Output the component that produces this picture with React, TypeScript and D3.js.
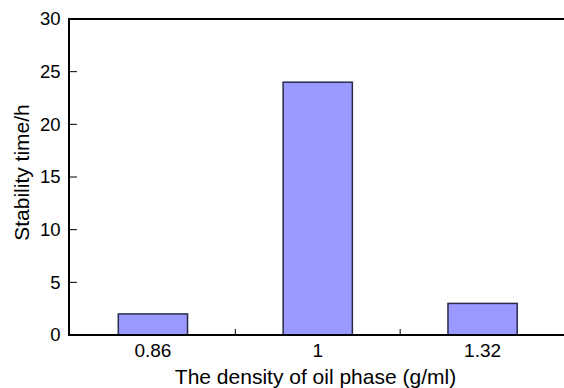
import React from "react";
import * as d3 from "d3";

const categories = ["0.86", "1", "1.32"];
const stabilityTime = [2, 24, 3];
const yTicks = [0, 5, 10, 15, 20, 25, 30];
const xTitle = "The density of oil phase (g/ml)";
const yTitle = "Stability time/h";

export default function App() {
  const W = 564, H = 388;
  const left = 69, right = 565, top = 19, bottom = 335;
  const x = d3.scaleBand<string>().domain(categories).range([left + 1.5, right]).paddingInner(0.58).paddingOuter(0.29);
  const xb = d3.scaleBand<string>().domain(categories).range([left + 1.5, right]);
  const y = d3.scaleLinear().domain([0, 30]).range([bottom, top]);
  const font = "'Liberation Sans', Arial, sans-serif";
  return (
    <svg width={W} height={H} style={{ position: "absolute", left: 0, top: 0, background: "#fff" }} fontFamily={font}>
      {categories.map((c, i) => (
        <rect key={c} x={x(c)!} y={y(stabilityTime[i])} width={x.bandwidth()} height={bottom - y(stabilityTime[i])}
          fill="#9999FF" stroke="#2a2a4a" strokeWidth={1.5} />
      ))}
      {/* frame */}
      <line x1={left} x2={W} y1={top} y2={top} stroke="#000" strokeWidth={2} />
      <line x1={left} x2={left} y1={top - 1} y2={bottom + 1} stroke="#000" strokeWidth={2} />
      <line x1={left - 1} x2={W} y1={bottom} y2={bottom} stroke="#000" strokeWidth={2} />
      {yTicks.map((t) => (
        <g key={t}>
          {t > 0 && t < 30 && <line x1={left} x2={left + 8} y1={y(t)} y2={y(t)} stroke="#000" strokeWidth={1} />}
          <text x={60.5} y={y(t)} dy="0.35em" textAnchor="end" fontSize={18.5}>{t}</text>
        </g>
      ))}
      {categories.slice(1).map((c) => (
        <line key={c} x1={xb(c)!} x2={xb(c)!} y1={bottom} y2={bottom - 6} stroke="#000" strokeWidth={1} />
      ))}
      {categories.map((c) => (
        <text key={c} x={xb(c)! + xb.bandwidth() / 2} y={357} textAnchor="middle" fontSize={19}>{c}</text>
      ))}
      <text x={315.5} y={384} textAnchor="middle" fontSize={21}>{xTitle}</text>
      <text transform={`translate(28.5,172.5) rotate(-90)`} textAnchor="middle" fontSize={21}>{yTitle}</text>
    </svg>
  );
}
